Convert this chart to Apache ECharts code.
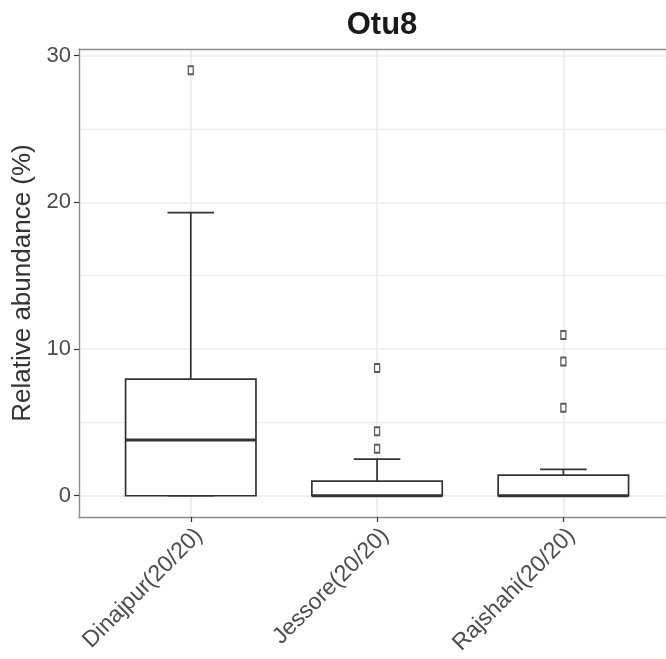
<!DOCTYPE html>
<html>
<head>
<meta charset="utf-8">
<script src="https://cdn.jsdelivr.net/npm/echarts@6/dist/echarts.min.js"></script>
<style>
  html, body { margin: 0; padding: 0; background: #fff; }
  #chart1 { width: 666px; height: 659px; }
</style>
</head>
<body>
<div id="chart1"></div>
<script>
// datos
const categorias = ['Dinajpur(20/20)', 'Jessore(20/20)', 'Rajshahi(20/20)'];
const minimos  = [0, 0, 0];
const q1s      = [0, 0, 0];
const medianas = [3.8, 0, 0];
const q3s      = [7.95, 1.0, 1.4];
const maximos  = [19.3, 2.5, 1.8];
// puntos atípicos: [grupo (1..3), valor]
const atipicos = [[1, 29.0], [2, 8.7], [2, 4.4], [2, 3.2], [3, 10.95], [3, 9.15], [3, 6.0]];
const ticksY = [0, 10, 20, 30];
const ticksYmenores = [5, 15, 25];

const datosCaja = categorias.map((c, i) => [i + 1, minimos[i], q1s[i], medianas[i], q3s[i], maximos[i]]);

const colorLinea = '#333333';
const colorBorde = '#8c8c8c';

const renderCaja = (params, api) => {
    const x = api.value(0);
    const anchoCaja = api.size([0.7, 0])[0] / 2;
    const anchoBigote = api.size([0.25, 0])[0] / 2;
    const pMin = api.coord([x, api.value(1)]);
    const pQ1 = api.coord([x, api.value(2)]);
    const pMed = api.coord([x, api.value(3)]);
    const pQ3 = api.coord([x, api.value(4)]);
    const pMax = api.coord([x, api.value(5)]);
    const estilo = { stroke: colorLinea, lineWidth: 1.7, fill: null };
    return {
        type: 'group',
        children: [
            // barra de error (bigotes con remates)
            { type: 'line', shape: { x1: pMin[0], y1: pMin[1], x2: pMax[0], y2: pMax[1] }, style: estilo },
            { type: 'line', shape: { x1: pMax[0] - anchoBigote, y1: pMax[1], x2: pMax[0] + anchoBigote, y2: pMax[1] }, style: estilo },
            { type: 'line', shape: { x1: pMin[0] - anchoBigote, y1: pMin[1], x2: pMin[0] + anchoBigote, y2: pMin[1] }, style: estilo },
            // caja
            { type: 'rect', shape: { x: pQ1[0] - anchoCaja, y: pQ3[1], width: anchoCaja * 2, height: pQ1[1] - pQ3[1] },
              style: { stroke: colorLinea, lineWidth: 1.7, fill: '#ffffff' } },
            // mediana
            { type: 'line', shape: { x1: pMed[0] - anchoCaja, y1: pMed[1], x2: pMed[0] + anchoCaja, y2: pMed[1] },
              style: { stroke: colorLinea, lineWidth: 3 } }
        ]
    };
};

const getOptionChart1 = () => {
    return {
        animation: false,
        backgroundColor: '#ffffff',
        title: {
            text: 'Otu8',
            left: 377,
            textAlign: 'center',
            top: 5,
            textStyle: { fontFamily: 'Liberation Sans', fontSize: 31, fontWeight: 'bold', color: '#1a1a1a' }
        },
        grid: { left: 79, right: 0, top: 49, bottom: 142 },
        xAxis: [
            {
                type: 'value',
                min: 0.4,
                max: 3.551,
                axisLine: { show: true, onZero: false, lineStyle: { color: colorBorde, width: 1.4 } },
                axisTick: { show: true, length: 5, customValues: [1, 2, 3], lineStyle: { color: colorLinea, width: 1.2 } },
                axisLabel: {
                    customValues: [1, 2, 3],
                    formatter: (v) => categorias[Math.round(v) - 1],
                    rotate: 45,
                    align: 'right',
                    verticalAlign: 'top',
                    margin: 7,
                    fontFamily: 'Liberation Sans',
                    fontSize: 23,
                    color: '#4d4d4d'
                },
                splitLine: { show: true, lineStyle: { color: '#ebebeb', width: 1.6 } }
            },
            {
                // línea superior del panel
                type: 'value',
                position: 'top',
                min: 0.4,
                max: 3.551,
                axisLine: { show: true, onZero: false, lineStyle: { color: colorBorde, width: 1.4 } },
                axisTick: { show: false },
                axisLabel: { show: false },
                splitLine: { show: false }
            }
        ],
        yAxis: [
            {
                type: 'value',
                min: -1.45,
                max: 30.45,
                name: 'Relative abundance (%)',
                nameLocation: 'middle',
                nameGap: 42,
                nameRotate: 90,
                nameTextStyle: { fontFamily: 'Liberation Sans', fontSize: 26, color: '#333333' },
                axisLine: { show: true, onZero: false, lineStyle: { color: colorBorde, width: 1.4 } },
                axisTick: { show: true, length: 5, customValues: ticksY, lineStyle: { color: colorLinea, width: 1.2 } },
                axisLabel: { customValues: ticksY, margin: 8, fontFamily: 'Liberation Sans', fontSize: 22, color: '#4d4d4d' },
                splitLine: { show: true, lineStyle: { color: '#ebebeb', width: 1.6 } }
            },
            {
                type: 'value',
                min: -1.45,
                max: 30.45,
                position: 'left',
                axisLine: { show: false },
                axisTick: { show: false, customValues: ticksYmenores },
                axisLabel: { show: false, customValues: ticksYmenores },
                splitLine: { show: true, lineStyle: { color: '#efefef', width: 1.4 } }
            }
        ],
        series: [
            {
                name: 'cajas',
                type: 'custom',
                renderItem: renderCaja,
                encode: { x: 0, y: [1, 2, 3, 4, 5] },
                data: datosCaja,
                z: 3
            },
            {
                name: 'atipicos',
                type: 'scatter',
                symbol: 'rect',
                symbolSize: [5, 8],
                itemStyle: { color: '#ffffff', borderColor: colorLinea, borderWidth: 1.6 },
                data: atipicos,
                z: 4
            }
        ]
    };
};

const initCharts = () => {
    const chart1 = echarts.init(document.getElementById('chart1'));
    chart1.setOption(getOptionChart1());
};

window.addEventListener('load', () => {
    initCharts();
});
</script>
</body>
</html>
